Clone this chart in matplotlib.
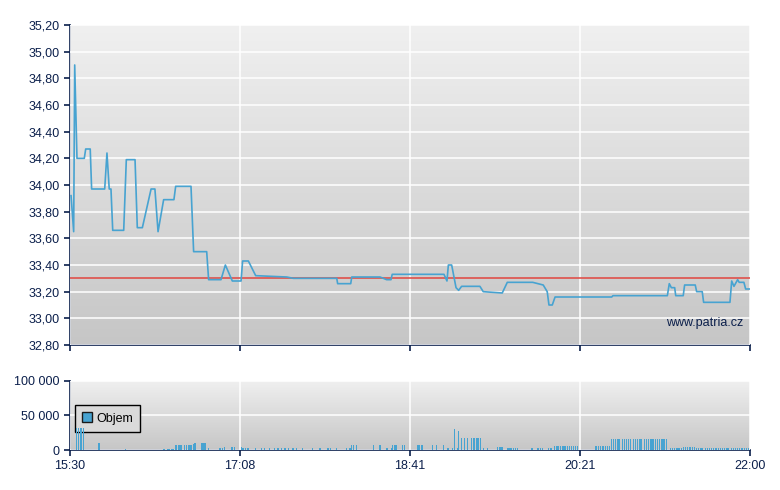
import numpy as np
import matplotlib
matplotlib.use("Agg")
import matplotlib.pyplot as plt
from matplotlib.patches import Patch
from matplotlib.ticker import FuncFormatter

# minutes since 15:30
price_t = [0.6, 2.1, 2.7, 4.0, 8.2, 9.0, 11.6, 12.4, 19.9, 21.2, 22.5, 23.5, 24.5, 30.8,
           32.3, 37.3, 38.6, 41.5, 46.5, 48.7, 50.5, 53.7, 59.6, 60.6, 69.4, 70.9, 78.4,
           79.5, 86.6, 89.1, 93.1, 98.1, 99.0, 102.3, 106.5, 124.3, 128.1, 153.0, 153.5,
           161.0, 161.6, 177.8, 181.6, 184.1, 184.8, 214.5, 216.2, 217.0, 218.9, 221.4,
           222.9, 224.6, 235.1, 237.0, 247.9, 250.8, 265.4, 271.4, 273.7, 274.7, 276.6,
           278.2, 310.7, 311.4, 342.6, 343.7, 344.9, 346.8, 347.4, 351.7, 352.5, 358.6,
           359.4, 362.6, 363.4, 378.5, 379.5, 380.8, 382.9, 383.8, 386.5, 387.5, 390.0]
price = [33.92, 33.65, 34.90, 34.20, 34.20, 34.27, 34.27, 33.97, 33.97, 34.24, 33.97, 33.97,
         33.66, 33.66, 34.19, 34.19, 33.68, 33.68, 33.97, 33.97, 33.65, 33.89, 33.89, 33.99,
         33.99, 33.50, 33.50, 33.29, 33.29, 33.40, 33.28, 33.28, 33.43, 33.43, 33.32, 33.31,
         33.30, 33.30, 33.26, 33.26, 33.31, 33.31, 33.29, 33.29, 33.33, 33.33, 33.28, 33.40,
         33.40, 33.23, 33.21, 33.24, 33.24, 33.20, 33.19, 33.27, 33.27, 33.25, 33.20, 33.10,
         33.10, 33.16, 33.16, 33.17, 33.17, 33.26, 33.23, 33.23, 33.17, 33.17, 33.25, 33.25,
         33.20, 33.20, 33.12, 33.12, 33.28, 33.24, 33.29, 33.27, 33.27, 33.22, 33.22]
prev_close = 33.30

vol_t = [3.7, 5.0, 6.3, 7.9, 16.6, 31.7, 53.9, 56.2, 57.2, 58.1, 59.1,
         60.4, 61.2, 62.1, 63.1, 64.1, 65.9, 66.9, 67.8, 68.8, 69.8, 70.7, 71.7,
         75.7, 76.4, 77.1, 77.8, 79.3, 85.5, 86.4, 87.6, 88.7, 92.9, 94.1, 98.3,
         99.2, 100.5, 102.1, 106.3, 109.7, 111.6, 114.5, 117.4, 119.3, 121.4, 123.3,
         125.4, 127.9, 129.8, 133.2, 139.0, 143.0, 143.8, 147.6, 148.4, 149.3, 153.0,
         158.7, 160.4, 161.0, 161.6, 162.7, 164.2, 173.9, 177.4, 178.2, 181.4, 182.2,
         184.5, 185.1, 186.4, 187.3, 190.6, 191.7, 199.6, 200.3, 201.9, 207.8, 210.1,
         214.1, 216.4, 217.0, 219.3, 220.4, 222.1, 222.9, 224.4, 226.1, 227.8, 230.1,
         231.3, 231.9, 233.0, 233.6, 234.2, 235.3, 237.2, 239.3, 245.3, 246.2, 247.2,
         247.9, 250.8, 251.8, 252.9, 254.2, 255.6, 256.5, 265.0, 268.4, 269.7, 271.1,
         274.3, 275.5, 276.4, 277.8, 278.9, 279.9, 281.2, 282.4, 283.3, 284.4, 285.4,
         286.5, 287.6, 288.7, 289.8, 291.2, 301.7, 303.0, 304.4, 305.7, 307.0, 308.4,
         309.5, 310.5, 311.6, 313.0, 314.3, 315.4, 316.8, 318.1, 319.3, 320.4, 321.7,
         323.1, 324.2, 325.6, 326.9, 328.0, 329.4, 330.5, 331.9, 333.2, 334.4, 335.7,
         336.8, 338.2, 339.5, 340.7, 342.0, 344.3, 345.6, 346.8, 348.1, 349.3, 350.6,
         351.9, 353.1, 354.4, 355.6, 356.9, 358.0, 359.4, 360.5, 361.9, 363.0, 364.4,
         365.5, 366.9, 368.0, 369.3, 370.5, 371.8, 372.9, 374.3, 375.5, 376.8, 377.9,
         379.3, 380.4, 381.8, 382.9, 384.2, 385.4, 386.7, 387.9, 389.2]
vol = [32000, 32000, 32000, 32000, 10000, 1500, 1500, 1500, 1500, 1500, 1500,
       7200, 7200, 7200, 7200, 7200, 7200, 7200, 7200, 7200, 7200, 9100, 10600,
       10600, 10600, 10600, 10600, 2400, 2900, 2900, 2900, 4800, 4800, 4800, 4800,
       2900, 2900, 2900, 2900, 2900, 2900, 2900, 2900, 2900, 2900, 2900,
       2900, 2900, 2900, 2900, 2900, 2900, 2900, 2900, 2900, 2900, 2900,
       2900, 2900, 2900, 7200, 7200, 7200, 7200, 7200, 7200, 2900, 2900,
       2900, 7200, 7200, 7200, 7200, 7200, 7200, 7200, 7200, 7200, 7200,
       7200, 2900, 2900, 2900, 30300, 2900, 27400, 17300, 17300, 17300, 17300,
       17300, 17300, 17300, 17300, 17300, 17300, 2900, 2900, 4300, 4300, 4300,
       4300, 2900, 2900, 2900, 2900, 2900, 2900, 2900, 2900, 2900, 2900,
       2900, 2900, 2900, 5800, 5800, 5800, 5800, 5800, 5800, 5800, 5800,
       5800, 5800, 5800, 5800, 5800, 5800, 5800, 5800, 5800, 5800, 5800,
       5800, 15900, 15900, 15900, 15900, 15900, 15900, 15900, 15900, 15900, 15900,
       15900, 15900, 15900, 15900, 15900, 15900, 15900, 15900, 15900, 15900, 15900,
       15900, 15900, 15900, 15900, 15900, 2900, 2900, 2900, 2900, 2900, 2900,
       4300, 4300, 4300, 4300, 4300, 4300, 2900, 2900, 2900, 2900, 2900,
       2900, 2900, 2900, 2900, 2900, 2900, 2900, 2900, 2900, 2900, 2900,
       2900, 2900, 2900, 2900, 2900, 2900, 2900, 2900, 2900]

tick_pos = [0, 97.5, 195, 292.5, 390]
tick_labels = ["15:30", "17:08", "18:41", "20:21", "22:00"]

navy = "#0b1f4b"
blue = "#47a3d1"

plt.rcParams["font.family"] = ["Liberation Sans", "DejaVu Sans"]
plt.rcParams["font.size"] = 9

fig = plt.figure(figsize=(7.8, 4.9), dpi=100)
ax = fig.add_axes([70 / 780, 1 - 345 / 490, 680 / 780, 320 / 490])
axv = fig.add_axes([70 / 780, 1 - 450 / 490, 680 / 780, 69.3 / 490])


def style(a):
    grad = np.linspace(0, 1, 256).reshape(-1, 1)
    a.imshow(grad, extent=[0, 1, 0, 1], transform=a.transAxes, aspect="auto",
             cmap=matplotlib.colors.LinearSegmentedColormap.from_list("g", ["#f0f0f0", "#c6c6c6"]),
             zorder=0)
    for s in ["top", "right"]:
        a.spines[s].set_visible(False)
    for s in ["left", "bottom"]:
        a.spines[s].set_color(navy)
        a.spines[s].set_linewidth(1.2)
    a.tick_params(colors=navy, direction="out", length=4, width=1.2, labelcolor=navy)
    a.set_xlim(0, 390)
    a.set_xticks(tick_pos)
    a.grid(True, color="white", linewidth=1.1, zorder=1)
    a.set_axisbelow(False)


style(ax)
ax.set_ylim(32.8, 35.2)
ax.set_yticks(np.arange(32.8, 35.21, 0.2))
ax.yaxis.set_major_formatter(FuncFormatter(lambda v, p: f"{v:.2f}".replace(".", ",")))
ax.set_xticklabels([])
ax.axhline(prev_close, color="#e0504a", linewidth=1.2, zorder=2.6)
ax.plot(price_t, price, color=blue, linewidth=1.2, zorder=3)
ax.text(0.99, 0.068, "www.patria.cz", transform=ax.transAxes, ha="right", va="center",
        color=navy, fontsize=9, zorder=4)

style(axv)
axv.set_ylim(0, 100000)
axv.set_yticks([0, 50000, 100000])
axv.yaxis.set_major_formatter(FuncFormatter(lambda v, p: f"{int(v):,}".replace(",", " ")))
axv.set_xticklabels(tick_labels)
axv.bar(vol_t, vol, width=0.65, color=blue, zorder=3)
leg = axv.legend(handles=[Patch(facecolor=blue, edgecolor="#1a1a1a", label="Objem")],
                 loc="upper left", bbox_to_anchor=(0.007, 0.65), borderaxespad=0,
                 frameon=True, fancybox=False, edgecolor="black", handlelength=0.8,
                 handleheight=0.8, handletextpad=0.3, borderpad=0.6, fontsize=9)
leg.get_frame().set_facecolor("#dadada")
leg.get_frame().set_alpha(None)
leg.get_frame().set_linewidth(1.0)
leg.set_zorder(2.7)

fig.savefig("out.png", dpi=100)
